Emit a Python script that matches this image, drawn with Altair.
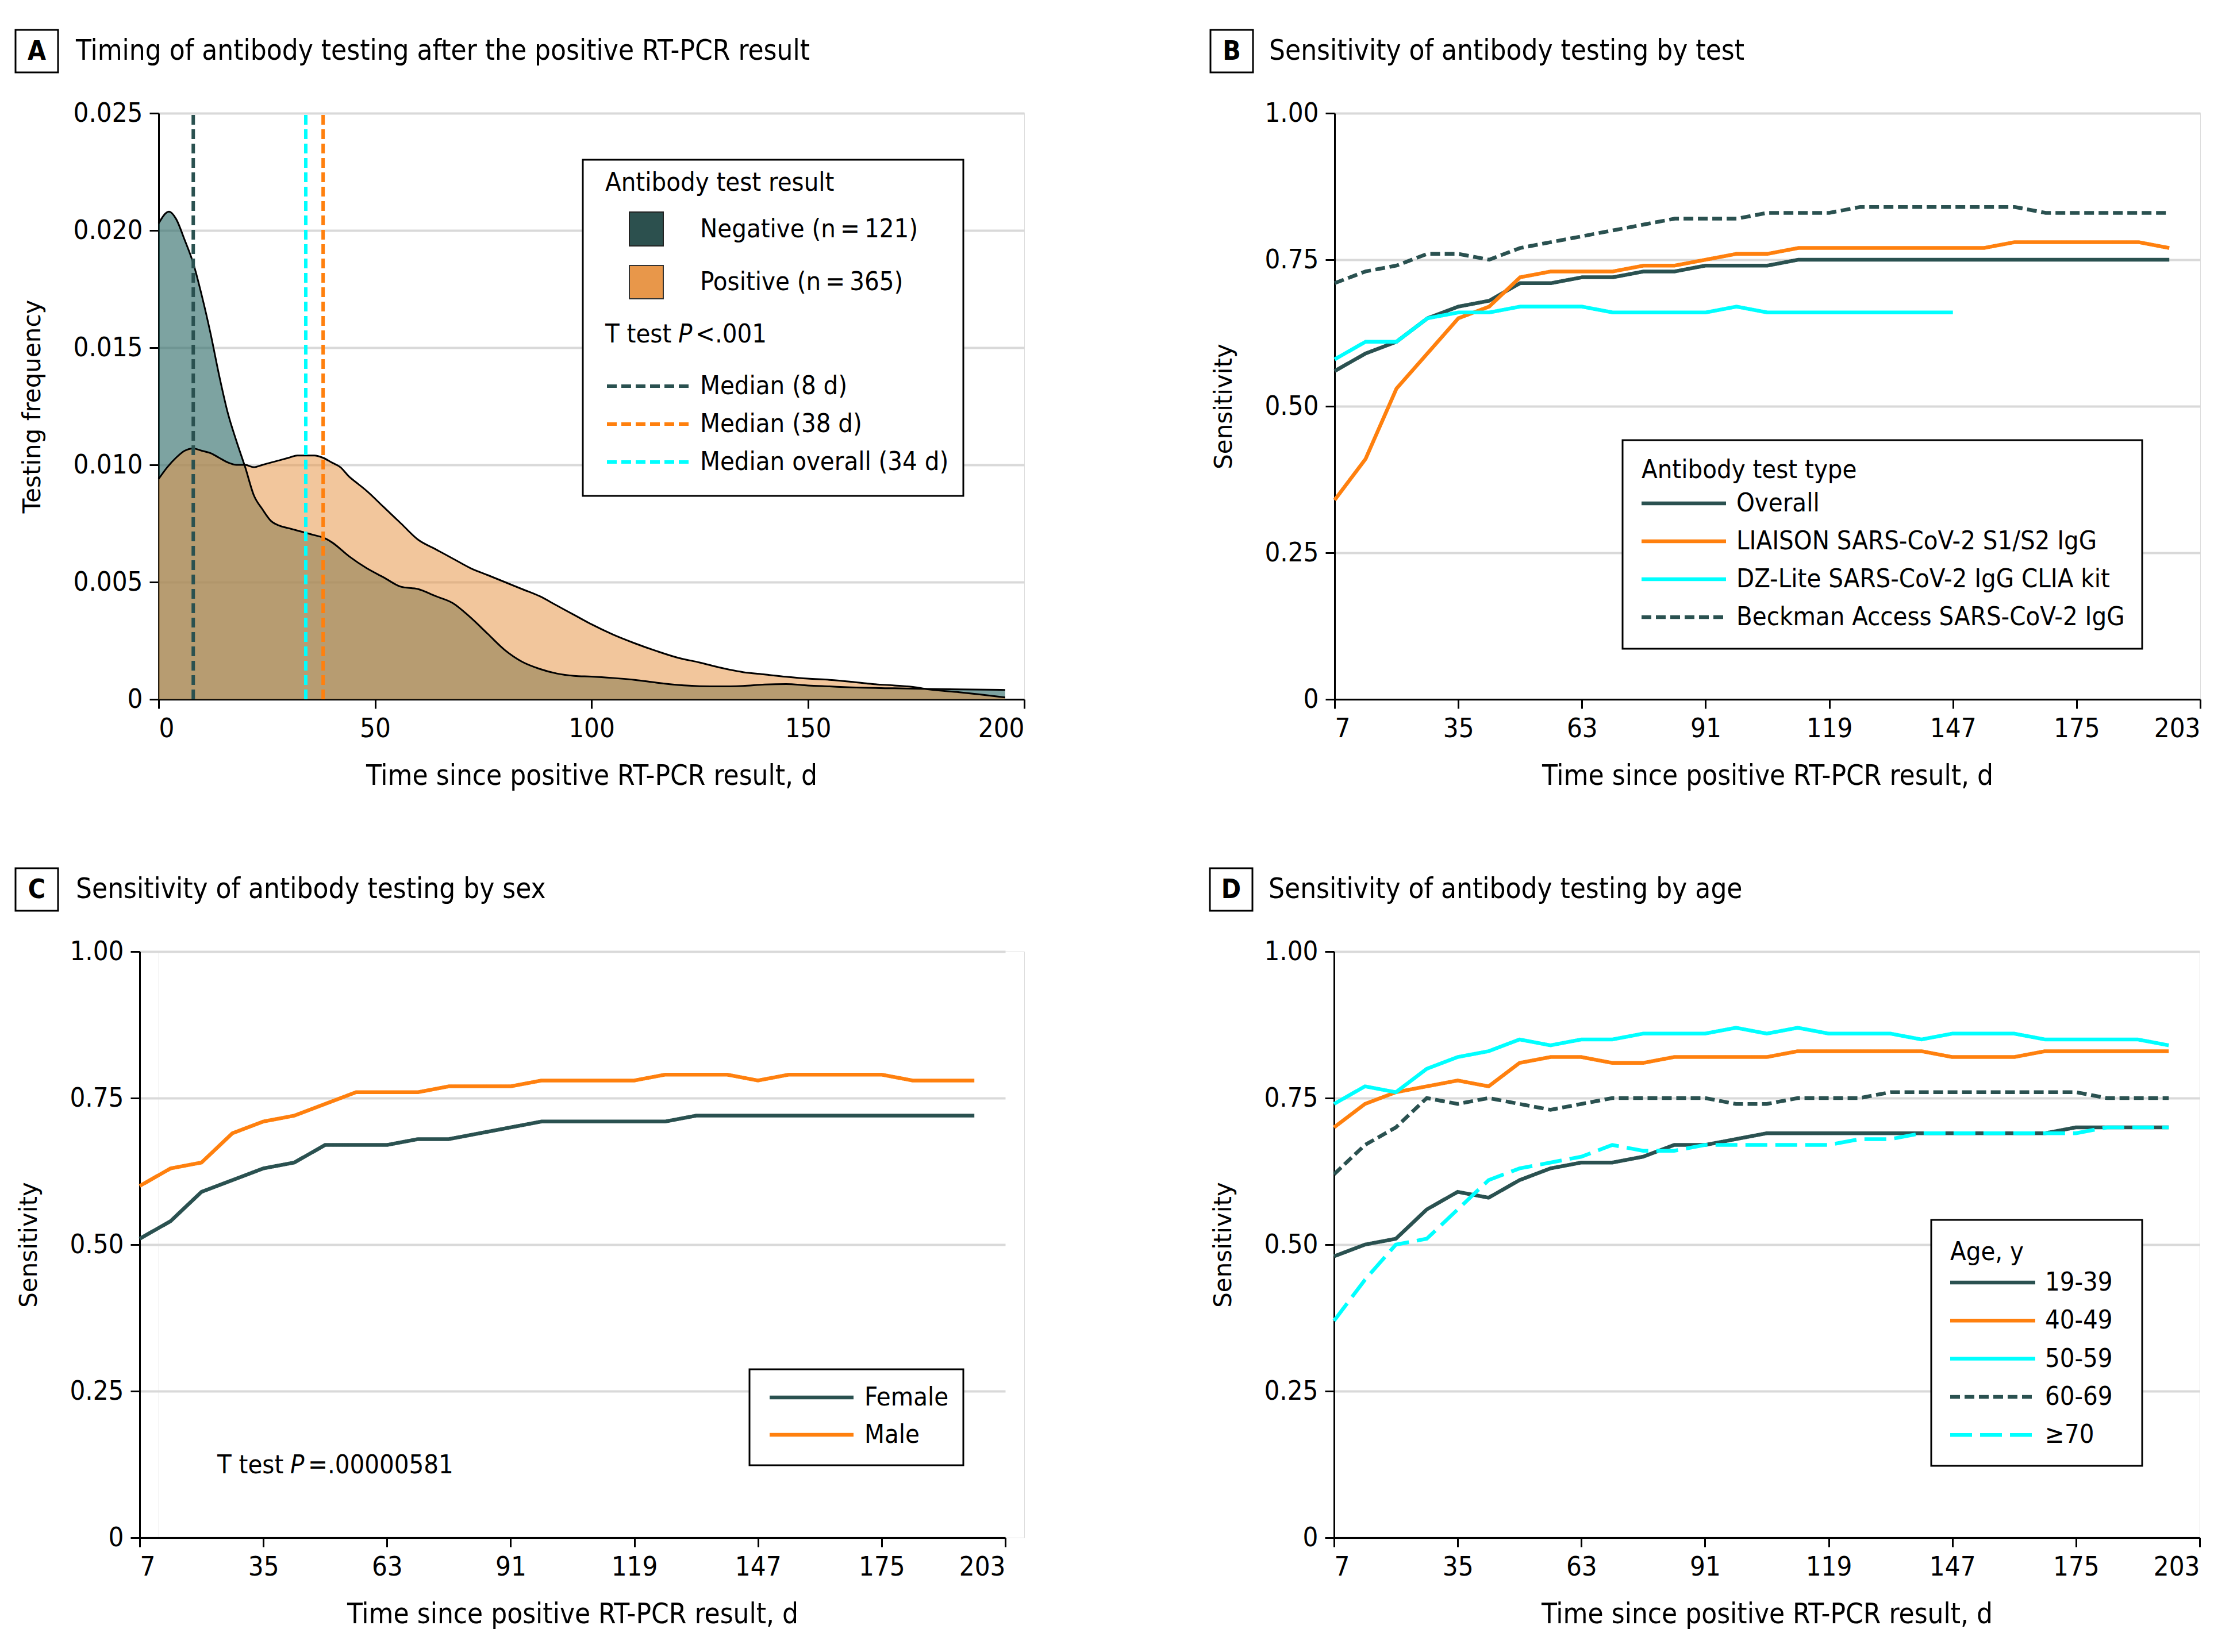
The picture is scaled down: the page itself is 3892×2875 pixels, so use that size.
import altair as alt
import pandas as pd

FONT = "Liberation Sans Narrow, DejaVu Sans Condensed, Roboto Condensed, Arial Narrow, sans-serif"
YFONT = "DejaVu Sans, Verdana, sans-serif"
DARK = "#2a5150"
ORANGE = "#ff800e"
CYAN = "#00ffff"
GRID = "#d9d9d9"

# ---------------- data ----------------
days = [7, 14, 21, 28, 35, 42, 49, 56, 63, 70, 77, 84, 91, 98, 105, 112, 119, 126,
        133, 140, 147, 154, 161, 168, 175, 182, 189, 196]
x_ticks = [7, 35, 63, 91, 119, 147, 175, 203]

# Panel A: density of testing time
neg_x = [0, 2.4, 4, 6, 8, 10, 12, 14, 16, 18, 20, 22, 24, 26, 28, 30, 32, 34, 36, 38,
         40, 44, 48, 52, 56, 60, 64, 68, 72, 76, 80, 84, 88, 92, 96, 100, 105, 110, 115,
         120, 125, 130, 135, 140, 145, 150, 155, 160, 170, 178, 185, 195.6]
neg_y = [0.0203, 0.0208, 0.0205, 0.0196, 0.0186, 0.0172, 0.0156, 0.0138, 0.0122, 0.0110,
         0.0099, 0.0087, 0.0081, 0.0076, 0.0074, 0.0073, 0.0072, 0.0071, 0.0070, 0.0069,
         0.0067, 0.0061, 0.0056, 0.0052, 0.0048, 0.0047, 0.0044, 0.0041, 0.0035, 0.0028,
         0.0021, 0.0016, 0.0013, 0.0011, 0.0010, 0.00097, 0.00091, 0.00083, 0.00071, 0.00061,
         0.00056, 0.00055, 0.00057, 0.00063, 0.00065, 0.00059, 0.00055, 0.00051, 0.00047,
         0.00044, 0.00042, 0.00040]
pos_x = [0, 2, 4, 6, 8, 10, 12, 14, 16, 18, 20, 22, 24, 26, 28, 30, 32, 34, 36, 38, 40, 42,
         44, 46, 48, 52, 56, 60, 64, 68, 72, 76, 80, 84, 88, 92, 96, 100, 105, 110, 115, 120,
         125, 130, 135, 140, 145, 150, 155, 160, 165, 170, 175, 178, 185, 190, 195.6]
pos_y = [0.0094, 0.0099, 0.0103, 0.0106, 0.0107, 0.0106, 0.0105, 0.0103, 0.0101, 0.0100,
         0.0100, 0.0099, 0.0100, 0.0101, 0.0102, 0.0103, 0.0104, 0.0104, 0.0104, 0.0103,
         0.0101, 0.0099, 0.0095, 0.0092, 0.0089, 0.0082, 0.0075, 0.0068, 0.0064, 0.0060,
         0.0056, 0.0053, 0.0050, 0.0047, 0.0044, 0.0040, 0.0036, 0.0032, 0.00276, 0.00239,
         0.00206, 0.00177, 0.00157, 0.00134, 0.00116, 0.00106, 0.00096, 0.00088, 0.00083,
         0.00075, 0.00065, 0.00059, 0.00051, 0.00042, 0.00030, 0.00020, 0.00008]
median_labels = ["Median (8 d)", "Median (38 d)", "Median overall (34 d)"]
median_days = [8, 38, 34]
median_colors = [DARK, ORANGE, CYAN]

# Panel B: by test
b_names = ["Overall", "LIAISON SARS-CoV-2 S1/S2 IgG", "DZ-Lite SARS-CoV-2 IgG CLIA kit",
           "Beckman Access SARS-CoV-2 IgG"]
b_overall = [0.56, 0.59, 0.61, 0.65, 0.67, 0.68, 0.71, 0.71, 0.72, 0.72, 0.73, 0.73, 0.74, 0.74,
             0.74, 0.75, 0.75, 0.75, 0.75, 0.75, 0.75, 0.75, 0.75, 0.75, 0.75, 0.75, 0.75, 0.75]
b_liaison = [0.34, 0.41, 0.53, 0.59, 0.65, 0.67, 0.72, 0.73, 0.73, 0.73, 0.74, 0.74, 0.75, 0.76,
             0.76, 0.77, 0.77, 0.77, 0.77, 0.77, 0.77, 0.77, 0.78, 0.78, 0.78, 0.78, 0.78, 0.77]
b_dzlite = [0.58, 0.61, 0.61, 0.65, 0.66, 0.66, 0.67, 0.67, 0.67, 0.66, 0.66, 0.66, 0.66, 0.67,
            0.66, 0.66, 0.66, 0.66, 0.66, 0.66, 0.66]
b_beckman = [0.71, 0.73, 0.74, 0.76, 0.76, 0.75, 0.77, 0.78, 0.79, 0.80, 0.81, 0.82, 0.82, 0.82,
             0.83, 0.83, 0.83, 0.84, 0.84, 0.84, 0.84, 0.84, 0.84, 0.83, 0.83, 0.83, 0.83, 0.83]
b_colors = [DARK, ORANGE, CYAN, DARK]
b_dashes = [[1, 0], [1, 0], [1, 0], [17, 8]]

# Panel C: by sex
c_names = ["Female", "Male"]
c_female = [0.51, 0.54, 0.59, 0.61, 0.63, 0.64, 0.67, 0.67, 0.67, 0.68, 0.68, 0.69, 0.70, 0.71,
            0.71, 0.71, 0.71, 0.71, 0.72, 0.72, 0.72, 0.72, 0.72, 0.72, 0.72, 0.72, 0.72, 0.72]
c_male = [0.60, 0.63, 0.64, 0.69, 0.71, 0.72, 0.74, 0.76, 0.76, 0.76, 0.77, 0.77, 0.77, 0.78,
          0.78, 0.78, 0.78, 0.79, 0.79, 0.79, 0.78, 0.79, 0.79, 0.79, 0.79, 0.78, 0.78, 0.78]
c_colors = [DARK, ORANGE]
c_dashes = [[1, 0], [1, 0]]

# Panel D: by age
d_names = ["19-39", "40-49", "50-59", "60-69", "\u226570"]
d_19 = [0.48, 0.50, 0.51, 0.56, 0.59, 0.58, 0.61, 0.63, 0.64, 0.64, 0.65, 0.67, 0.67, 0.68,
        0.69, 0.69, 0.69, 0.69, 0.69, 0.69, 0.69, 0.69, 0.69, 0.69, 0.70, 0.70, 0.70, 0.70]
d_40 = [0.70, 0.74, 0.76, 0.77, 0.78, 0.77, 0.81, 0.82, 0.82, 0.81, 0.81, 0.82, 0.82, 0.82,
        0.82, 0.83, 0.83, 0.83, 0.83, 0.83, 0.82, 0.82, 0.82, 0.83, 0.83, 0.83, 0.83, 0.83]
d_50 = [0.74, 0.77, 0.76, 0.80, 0.82, 0.83, 0.85, 0.84, 0.85, 0.85, 0.86, 0.86, 0.86, 0.87,
        0.86, 0.87, 0.86, 0.86, 0.86, 0.85, 0.86, 0.86, 0.86, 0.85, 0.85, 0.85, 0.85, 0.84]
d_60 = [0.62, 0.67, 0.70, 0.75, 0.74, 0.75, 0.74, 0.73, 0.74, 0.75, 0.75, 0.75, 0.75, 0.74,
        0.74, 0.75, 0.75, 0.75, 0.76, 0.76, 0.76, 0.76, 0.76, 0.76, 0.76, 0.75, 0.75, 0.75]
d_70 = [0.37, 0.44, 0.50, 0.51, 0.56, 0.61, 0.63, 0.64, 0.65, 0.67, 0.66, 0.66, 0.67, 0.67,
        0.67, 0.67, 0.67, 0.68, 0.68, 0.69, 0.69, 0.69, 0.69, 0.69, 0.69, 0.70, 0.70, 0.70]
d_colors = [DARK, ORANGE, CYAN, DARK, CYAN]
d_dashes = [[1, 0], [1, 0], [1, 0], [17, 8], [38, 14]]

# ---------------- style ----------------
W, H = 1506, 1020
SHIFT_C = 33          # panel C plot sits further left than panel A in the original
TICK_FS = 47
XTITLE_FS = 49
YTITLE_FS = 42
TITLE_FS = 49
LEG_FS = 45
LW = 6.5
ONE = pd.DataFrame({"k": [0]})


def axis_common(**kw):
    base = dict(domainColor="black", domainWidth=3, tickColor="black", tickWidth=3,
                tickSize=16, labelFont=FONT, labelFontSize=TICK_FS, labelColor="black",
                labelPadding=12, gridColor=GRID, gridWidth=4, titleColor="black",
                titleFontWeight="normal")
    base.update(kw)
    return alt.Axis(**base)


def x_axis(values):
    return axis_common(values=values, grid=False, title="Time since positive RT-PCR result, d",
                       titleFont=FONT, titleFontSize=XTITLE_FS, titlePadding=35)


def y_axis(values, title, fmt, offset=0):
    return axis_common(values=values, grid=True, labelExpr=fmt, title=title,
                       titleFont=YFONT, titleFontSize=YTITLE_FS, titlePadding=48,
                       offset=offset)


def text(t, x, y, size=LEG_FS, weight="normal", style="normal", align="left", font=FONT):
    return alt.Chart(ONE).mark_text(text=t, font=font, fontSize=size, fontWeight=weight,
                                    fontStyle=style, align=align, baseline="middle",
                                    color="black").encode(x=alt.value(x), y=alt.value(y))


def box(x0, x1, y0, y1, fill="white", stroke="black", sw=3):
    return alt.Chart(ONE).mark_rect(fill=fill, stroke=stroke, strokeWidth=sw).encode(
        x=alt.value(x0), x2=alt.value(x1), y=alt.value(y0), y2=alt.value(y1))


def seg(x0, x1, y, color, dash=None, sw=LW):
    kw = dict(color=color, strokeWidth=sw)
    if dash and dash != [1, 0]:
        kw["strokeDash"] = dash
    return alt.Chart(ONE).mark_rule(**kw).encode(
        x=alt.value(x0), x2=alt.value(x1), y=alt.value(y))


def panel_title(letter, title, bx0, tx, by0=-145):
    return [box(bx0, bx0 + 74, by0, by0 + 74),
            text(letter, bx0 + 37, by0 + 38, size=TITLE_FS - 3, weight="bold", align="center"),
            text(title, tx, by0 + 37, size=TITLE_FS)]


def line_legend(names, colors, dashes, bx, by, bw, bh, title, title_y, row0, dy,
                sx0, sx1, lx):
    layers = [box(bx, bx + bw, by, by + bh)]
    if title:
        layers.append(text(title, sx0, title_y))
    for i, (n, c, d) in enumerate(zip(names, colors, dashes)):
        yy = row0 + i * dy
        layers.append(seg(sx0, sx1, yy, c, d))
        layers.append(text(n, lx, yy))
    return layers


def sens_lines(df, names, colors, dashes, shift=0):
    return alt.Chart(df).mark_line(strokeWidth=LW, strokeCap="butt").encode(
        x=alt.X("day:Q", scale=alt.Scale(domain=[7, 203], nice=False, zero=False,
                                         range=[-shift, W - shift]),
                axis=x_axis(x_ticks)),
        y=alt.Y("sens:Q", scale=alt.Scale(domain=[0, 1], nice=False),
                axis=y_axis([0, 0.25, 0.5, 0.75, 1.0], "Sensitivity",
                            "datum.value == 0 ? '0' : format(datum.value, '.2f')",
                            offset=shift)),
        color=alt.Color("series:N", scale=alt.Scale(domain=names, range=colors), legend=None),
        strokeDash=alt.StrokeDash("series:N", scale=alt.Scale(domain=names, range=dashes),
                                  legend=None),
        order=alt.Order("day:Q"),
    )


def long_df(names, series_list):
    rows = []
    for n, vals in zip(names, series_list):
        for d, v in zip(days, vals):
            rows.append({"series": n, "day": d, "sens": v})
    return pd.DataFrame(rows)


# ---------------- Panel A ----------------
dens = pd.DataFrame(
    [{"grp": "Negative", "t": x, "f": y} for x, y in zip(neg_x, neg_y)]
    + [{"grp": "Positive", "t": x, "f": y} for x, y in zip(pos_x, pos_y)])

xa = alt.X("t:Q", scale=alt.Scale(domain=[0, 200], nice=False), axis=x_axis([0, 50, 100, 150, 200]))
ya = alt.Y("f:Q", scale=alt.Scale(domain=[0, 0.025], nice=False),
           axis=y_axis([0, 0.005, 0.01, 0.015, 0.02, 0.025], "Testing frequency",
                       "datum.value == 0 ? '0' : format(datum.value, '.3f')"))

neg_area = alt.Chart(dens).transform_filter(alt.datum.grp == "Negative").mark_area(
    interpolate="monotone", color="#2d6b68", opacity=0.62).encode(x=xa, y=ya)
pos_area = alt.Chart(dens).transform_filter(alt.datum.grp == "Positive").mark_area(
    interpolate="monotone", color="#e8974a", opacity=0.55).encode(x=xa, y=ya)
outlines = alt.Chart(dens).mark_line(interpolate="monotone", color="black",
                                     strokeWidth=3).encode(x=xa, y=ya, detail="grp:N")
med_df = pd.DataFrame({"label": median_labels, "t": median_days,
                       "lo": [0] * 3, "hi": [0.025] * 3})
medians = alt.Chart(med_df).mark_rule(strokeWidth=6, strokeDash=[17, 8]).encode(
    x=alt.X("t:Q"), y=alt.Y("lo:Q"), y2="hi:Q",
    color=alt.Color("label:N", scale=alt.Scale(domain=median_labels, range=median_colors),
                    legend=None))

legA = [box(738, 1400, 81, 666),
        text("Antibody test result", 777, 121),
        box(819, 878, 172, 231, fill="#2c504e", stroke="#222222", sw=2),
        text("Negative (n\u2009=\u2009121)", 942, 202),
        box(819, 878, 265, 323, fill="#e8974a", stroke="#333333", sw=2),
        text("Positive (n\u2009=\u2009365)", 942, 294),
        text("T test", 777, 385),
        text("P", 904, 385, style="italic"),
        text("<.001", 934, 385)]
for i, (lab, col) in enumerate(zip(median_labels, median_colors)):
    legA.append(seg(780, 922, 475 + i * 66, col, [17, 8], sw=6))
    legA.append(text(lab, 942, 475 + i * 66))

panelA = alt.layer(neg_area, pos_area, outlines, medians, *legA,
                   *panel_title("A", "Timing of antibody testing after the positive RT-PCR result",
                                -249, -144)).properties(width=W, height=H)

# ---------------- Panel B ----------------
dfB = long_df(b_names, [b_overall, b_liaison, b_dzlite, b_beckman])
legB = line_legend(b_names, b_colors, b_dashes, 501, 569, 904, 363, "Antibody test type",
                   621, 679, 66, 534, 681, 699)
panelB = alt.layer(sens_lines(dfB, b_names, b_colors, b_dashes), *legB,
                   *panel_title("B", "Sensitivity of antibody testing by test", -216, -114)
                   ).properties(width=W, height=H)

# ---------------- Panel C ----------------
s = SHIFT_C
dfC = long_df(c_names, [c_female, c_male])
legC = line_legend(c_names, c_colors, c_dashes, 1061 - s, 727, 372, 167, None,
                   0, 776, 65, 1096 - s, 1242 - s, 1261 - s)
ttest = [text("T test", 135 - s, 894), text("P", 262 - s, 894, style="italic"),
         text("=.00000581", 293 - s, 894)]
panelC = alt.layer(sens_lines(dfC, c_names, c_colors, c_dashes, shift=s), *legC, *ttest,
                   *panel_title("C", "Sensitivity of antibody testing by sex", -216 - s, -111 - s)
                   ).properties(width=W, height=H)

# ---------------- Panel D ----------------
dfD = long_df(d_names, [d_19, d_40, d_50, d_60, d_70])
legD = line_legend(d_names, d_colors, d_dashes, 1039, 467, 367, 428, "Age, y",
                   523, 576, 66.3, 1072, 1220, 1237)
panelD = alt.layer(sens_lines(dfD, d_names, d_colors, d_dashes), *legD,
                   *panel_title("D", "Sensitivity of antibody testing by age", -216, -114)
                   ).properties(width=W, height=H)

indep = dict(color="independent", strokeDash="independent")
top = alt.hconcat(panelA, panelB, spacing=320).resolve_scale(**indep)
bottom = alt.hconcat(panelC, panelD, spacing=320).resolve_scale(**indep)
chart = alt.vconcat(top, bottom, spacing=133).resolve_scale(
    **indep).properties(
    padding={"left": 17, "top": 42, "right": 5, "bottom": 5}
).configure_view(stroke=None).configure(background="white")

chart.save("out.html", embed_options={"renderer": "svg", "actions": False})
